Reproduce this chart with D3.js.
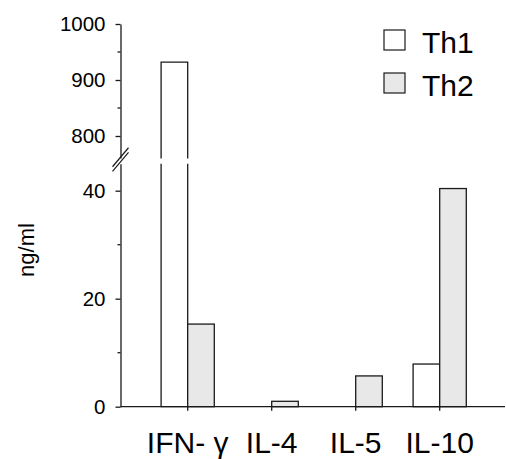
<!DOCTYPE html>
<html>
<head>
<meta charset="utf-8">
<script src="https://cdn.jsdelivr.net/npm/d3@7"></script>
<style>
    body { margin: 0; background: #fff; }
    text { font-family: "Liberation Sans", Arial, sans-serif; fill: #000; }
</style>
</head>
<body>
<svg id="chart" width="506" height="459"></svg>
<script>
// cytokine data (ng/ml)
const categories = ['IFN- \u03b3', 'IL-4', 'IL-5', 'IL-10']
const series = ['Th1', 'Th2']
const th1Values = [932, 0, 0, 7.9]
const th2Values = [15.3, 1.0, 5.7, 40.4]
const upperTicks = [800, 900, 1000]
const upperMinorTicks = [850, 950]
const lowerTicks = [0, 20, 40]
const lowerMinorTicks = [10, 30]

const FILLS = { Th1: '#ffffff', Th2: '#e8e8e8' }
const STROKE = '#1a1a1a'
const AXIS_X = 120.5
const LOWER_TOP = 163.7
const UPPER_BOTTOM = 158.4

const svg = d3.select('#chart')

// two y segments, split by the axis break
const yLower = d3.scaleLinear().domain([0, 45]).range([406.7, LOWER_TOP])
const yUpper = d3.scaleLinear().domain([760, 1000]).range([UPPER_BOTTOM, 24])

const x = d3.scaleBand().domain(categories).range([145.7, 481.7]).padding(0)
const xSub = d3.scaleBand().domain(series).range([-26.6, 26.6])
const center = c => x(c) + x.bandwidth() / 2

const rows = categories.map((c, i) => ({ cat: c, Th1: th1Values[i], Th2: th2Values[i] }))
const bars = rows.flatMap(r => series.map(s => ({ cat: r.cat, s, v: r[s] })))
    .filter(d => d.v > 0)

const gBars = svg.append('g')

bars.forEach(d => {
    const x0 = center(d.cat) + xSub(d.s)
    const w = xSub.bandwidth()
    const y0 = yLower(0)
    if (d.v <= yLower.domain()[1]) {
        gBars.append('rect')
            .attr('x', x0).attr('y', yLower(d.v))
            .attr('width', w).attr('height', y0 - yLower(d.v))
            .attr('fill', FILLS[d.s])
            .attr('stroke', STROKE).attr('stroke-width', 1.3)
    } else {
        // lower piece, open at top
        gBars.append('rect')
            .attr('x', x0).attr('y', LOWER_TOP)
            .attr('width', w).attr('height', y0 - LOWER_TOP)
            .attr('fill', FILLS[d.s])
        gBars.append('path')
            .attr('d', `M${x0},${LOWER_TOP} V${y0} H${x0 + w} V${LOWER_TOP}`)
            .attr('fill', 'none').attr('stroke', STROKE).attr('stroke-width', 1.3)
        // upper piece, open at bottom
        const yt = yUpper(d.v)
        gBars.append('rect')
            .attr('x', x0).attr('y', yt)
            .attr('width', w).attr('height', UPPER_BOTTOM - yt)
            .attr('fill', FILLS[d.s])
        gBars.append('path')
            .attr('d', `M${x0},${UPPER_BOTTOM} V${yt} H${x0 + w} V${UPPER_BOTTOM}`)
            .attr('fill', 'none').attr('stroke', STROKE).attr('stroke-width', 1.3)
    }
})

// y axes
const styleAxis = g => {
    g.selectAll('path, line').attr('stroke', STROKE).attr('stroke-width', 1.3)
    g.selectAll('text').attr('font-size', 20.5).attr('font-family', '"Liberation Sans", Arial, sans-serif')
}

const gUp = svg.append('g').attr('transform', `translate(${AXIS_X},0)`)
    .call(d3.axisLeft(yUpper).tickValues(upperTicks).tickFormat(d3.format('d'))
        .tickSize(5).tickSizeOuter(0).tickPadding(10))
    .call(styleAxis)
gUp.append('g').selectAll('line').data(upperMinorTicks).join('line')
    .attr('x1', -3).attr('x2', 0)
    .attr('y1', d => yUpper(d)).attr('y2', d => yUpper(d))
    .attr('stroke', STROKE).attr('stroke-width', 1.3)

const gLow = svg.append('g').attr('transform', `translate(${AXIS_X},0)`)
    .call(d3.axisLeft(yLower).tickValues(lowerTicks).tickFormat(d3.format('d'))
        .tickSize(5).tickSizeOuter(0).tickPadding(10))
    .call(styleAxis)
gLow.append('g').selectAll('line').data(lowerMinorTicks).join('line')
    .attr('x1', -3).attr('x2', 0)
    .attr('y1', d => yLower(d)).attr('y2', d => yLower(d))
    .attr('stroke', STROKE).attr('stroke-width', 1.3)

// break marks
const gBreak = svg.append('g').attr('transform', `translate(${AXIS_X},${(UPPER_BOTTOM + LOWER_TOP) / 2})`)
gBreak.append('rect').attr('x', -3).attr('y', -2.6).attr('width', 6).attr('height', 5.2).attr('fill', '#fff')
;[-2.3, 2.3].forEach(dy => {
    gBreak.append('line')
        .attr('x1', -8).attr('y1', 8 + dy)
        .attr('x2', 8).attr('y2', -11 + dy)
        .attr('stroke', STROKE).attr('stroke-width', 1.2)
})

// x axis
const gX = svg.append('g').attr('transform', `translate(0,${yLower(0)})`)
gX.append('line')
    .attr('x1', AXIS_X).attr('x2', 505)
    .attr('stroke', STROKE).attr('stroke-width', 1.3)
gX.selectAll('.tick').data(categories).join('line')
    .attr('class', 'tick')
    .attr('x1', d => center(d)).attr('x2', d => center(d))
    .attr('y1', 0).attr('y2', 4)
    .attr('stroke', STROKE).attr('stroke-width', 1.3)
gX.selectAll('.xlabel').data(categories).join('text')
    .attr('class', 'xlabel')
    .attr('x', d => center(d)).attr('y', 46)
    .attr('text-anchor', 'middle')
    .attr('font-size', 30)
    .text(d => d)

// y label
svg.append('text')
    .attr('transform', 'translate(34,250) rotate(-90)')
    .attr('text-anchor', 'middle')
    .attr('font-size', 22)
    .text('ng/ml')

// legend
const legend = svg.append('g').attr('transform', 'translate(384,30)')
series.forEach((s, i) => {
    const g = legend.append('g').attr('transform', `translate(0,${i * 43})`)
    g.append('rect').attr('width', 21).attr('height', 20)
        .attr('fill', FILLS[s]).attr('stroke', STROKE).attr('stroke-width', 1.2)
    g.append('text').attr('x', 38).attr('y', 23).attr('font-size', 30).text(s)
})
</script>
</body>
</html>
